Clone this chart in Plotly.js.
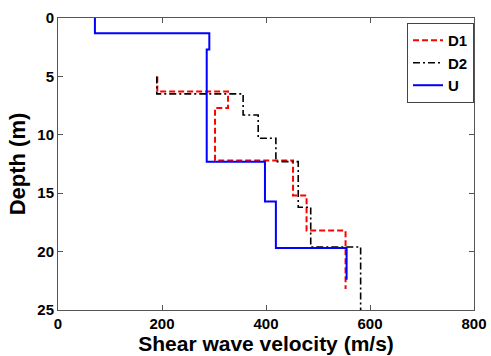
<!DOCTYPE html>
<html><head><meta charset="utf-8">
<script src="https://cdn.plot.ly/plotly-3.0.1.min.js"></script>
<style>html,body{margin:0;padding:0;background:#fff}#chart{width:491px;height:356px}</style>
</head><body><div id="chart"></div>
<script>
// Layer boundaries (depth, m) and layer velocities (m/s)
const d1Depths = [5.0, 6.3, 7.7, 12.2, 15.2, 18.2, 23.2];
const d1Vel    = [191, 327, 302, 452, 478, 553];
const d2Depths = [5.0, 6.5, 8.3, 10.3, 12.3, 16.2, 19.6, 25.0];
const d2Vel    = [190, 356, 385, 419, 462, 486, 582];
const uDepths  = [0, 1.3, 2.7, 12.3, 15.7, 19.7, 22.4];
const uVel     = [71, 291, 286, 398, 419, 555];
const seriesNames = ['D1', 'D2', 'U'];
const xTicks = [0, 200, 400, 600, 800];
const yTicks = [0, 5, 10, 15, 20, 25];

function steps(depths, vel) {
  const x = [], y = [];
  for (let i = 0; i < vel.length; i++) {
    x.push(vel[i], vel[i]);
    y.push(depths[i], depths[i + 1]);
  }
  return {x, y};
}
const s1 = steps(d1Depths, d1Vel), s2 = steps(d2Depths, d2Vel), s3 = steps(uDepths, uVel);
const traces = [
  {x: s1.x, y: s1.y, name: seriesNames[0], mode: 'lines', line: {color: '#ff0000', width: 2, dash: '6px,3px'}},
  {x: s2.x, y: s2.y, name: seriesNames[1], mode: 'lines', line: {color: '#000000', width: 1.6, dash: '7px,3px,2px,3px'}},
  {x: s3.x, y: s3.y, name: seriesNames[2], mode: 'lines', line: {color: '#0000ff', width: 2}}
];
const fontFam = 'Liberation Sans, Arial, sans-serif';
const layout = {
  width: 491, height: 356,
  margin: {l: 58, r: 17, t: 18, b: 46},
  paper_bgcolor: '#fff', plot_bgcolor: '#fff',
  showlegend: true,
  legend: {x: 1, xanchor: 'right', y: 0.983, yanchor: 'top', bordercolor: '#444', borderwidth: 1,
    bgcolor: '#fff', font: {family: fontFam, size: 15, color: '#000', weight: 'bold'}, tracegroupgap: 0},
  xaxis: {range: [0, 800], tickvals: xTicks, ticks: 'inside', ticklen: 5, tickcolor: '#555',
    showline: true, linecolor: '#555', linewidth: 1, mirror: 'ticks', showgrid: false, zeroline: false,
    tickfont: {family: fontFam, size: 15, color: '#000', weight: 'bold'},
    title: {text: 'Shear wave velocity (m/s)', font: {family: fontFam, size: 21, color: '#000', weight: 'bold'}, standoff: 0},
    automargin: false},
  yaxis: {range: [25, 0], tickvals: yTicks, ticks: 'inside', ticklen: 5, tickcolor: '#555',
    showline: true, linecolor: '#555', linewidth: 1, mirror: 'ticks', showgrid: false, zeroline: false,
    tickfont: {family: fontFam, size: 15, color: '#000', weight: 'bold'},
    title: {text: 'Depth (m)', font: {family: fontFam, size: 22, color: '#000', weight: 'bold'}, standoff: 5},
    automargin: false}
};
Plotly.newPlot('chart', traces, layout, {displayModeBar: false, staticPlot: true});
</script>
</body></html>
